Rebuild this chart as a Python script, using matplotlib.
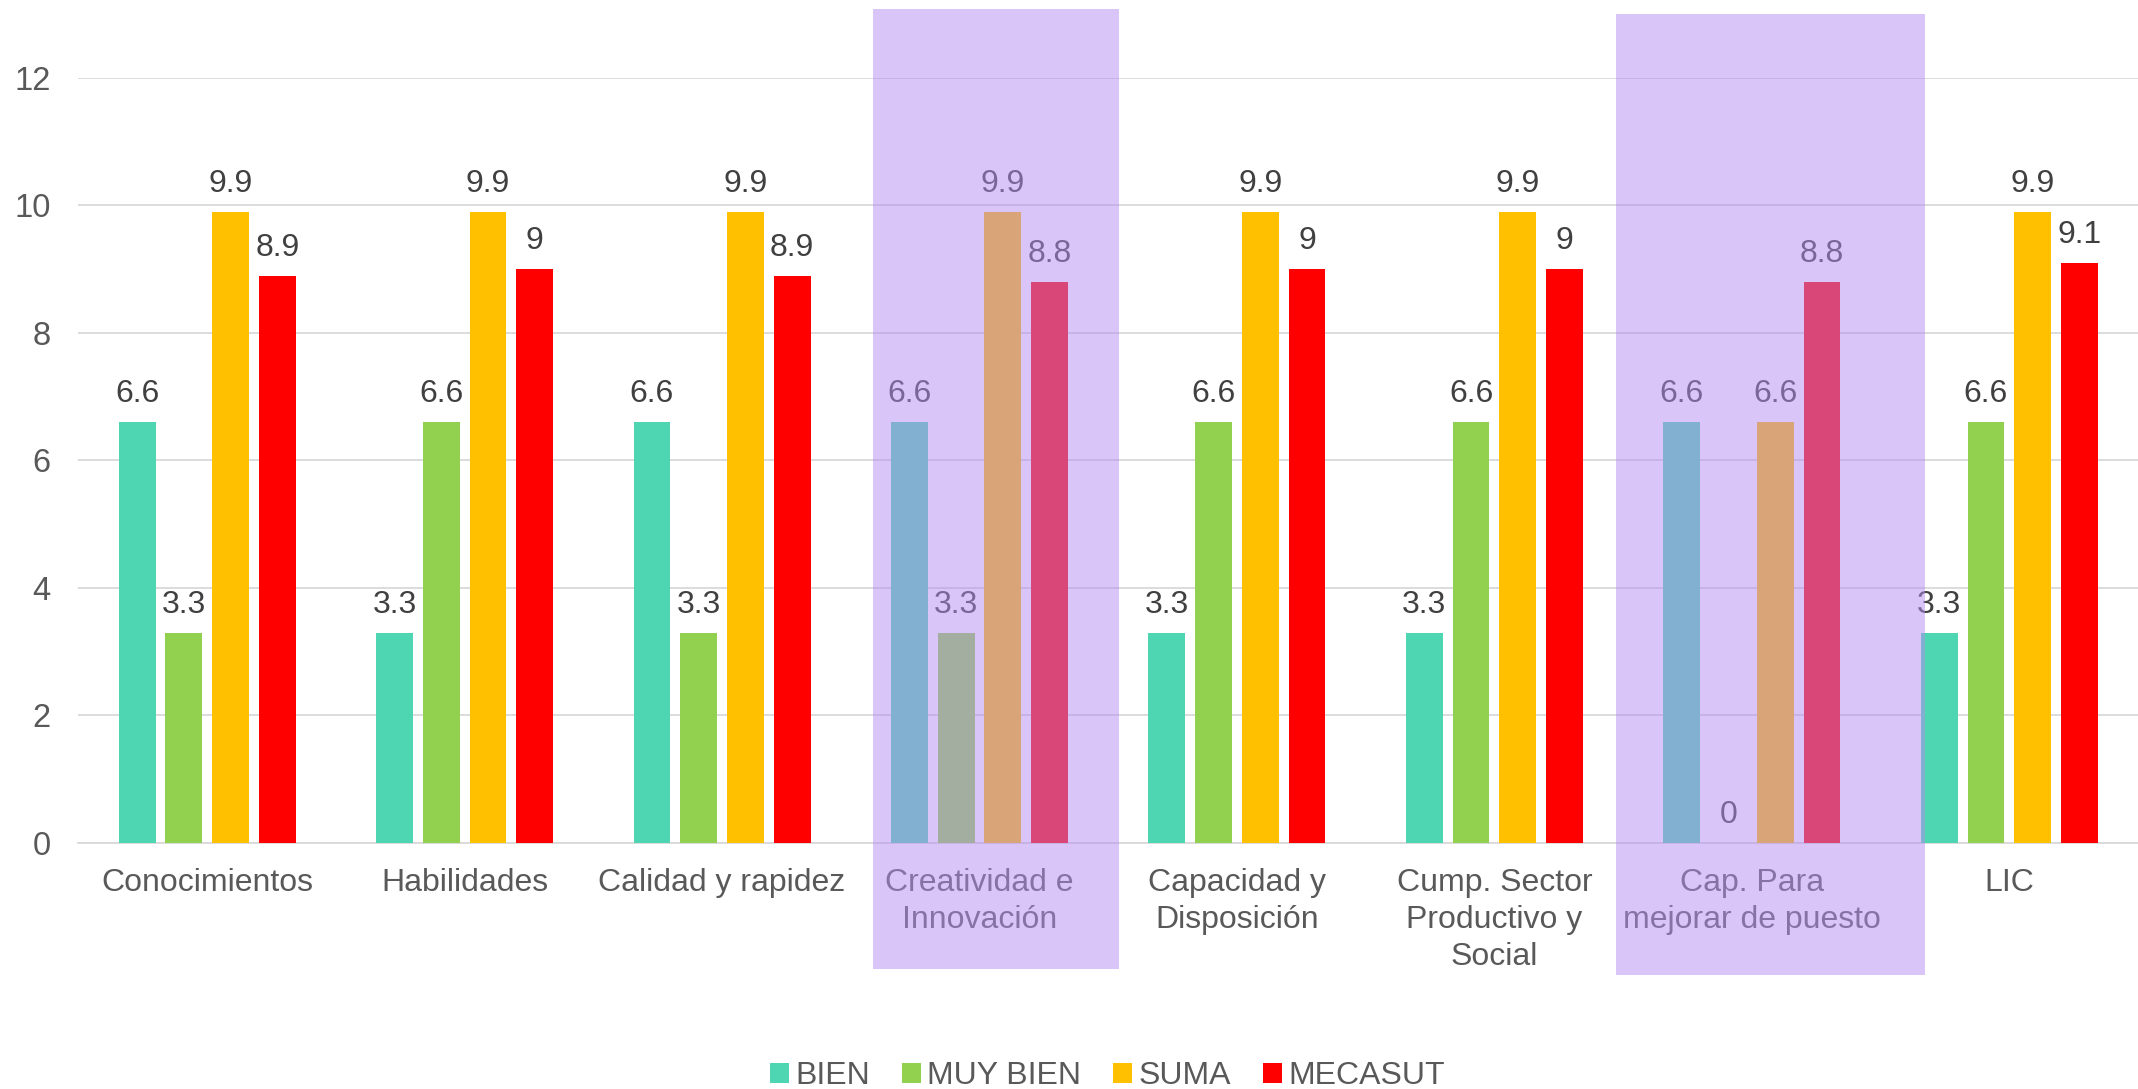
import matplotlib
matplotlib.use("Agg")
import matplotlib.pyplot as plt
from matplotlib.patches import Rectangle
import numpy as np

plt.rcParams['font.family'] = ['Liberation Sans', 'DejaVu Sans']

categories = ["Conocimientos", "Habilidades", "Calidad y rapidez", "Creatividad e\nInnovación",
              "Capacidad y\nDisposición", "Cump. Sector\nProductivo y\nSocial",
              "Cap. Para\nmejorar de puesto", "LIC"]
series_names = ["BIEN", "MUY BIEN", "SUMA", "MECASUT"]
bien = [6.6, 3.3, 6.6, 6.6, 3.3, 3.3, 6.6, 3.3]
muy_bien = [3.3, 6.6, 3.3, 3.3, 6.6, 6.6, 0, 6.6]
suma = [9.9, 9.9, 9.9, 9.9, 9.9, 9.9, 6.6, 9.9]
mecasut = [8.9, 9, 8.9, 8.8, 9, 9, 8.8, 9.1]
yticks = [0, 2, 4, 6, 8, 10, 12]

colors = ["#4DD6B1", "#92D050", "#FFC000", "#FF0000"]

fig = plt.figure(figsize=(21.38, 10.89), dpi=100)
ax = fig.add_axes([0.0367, 0.226, 0.9633, 0.7024])

x = np.arange(len(categories))
step = 0.1815
width = 0.143
all_series = [bien, muy_bien, suma, mecasut]
for i, (vals, name, c) in enumerate(zip(all_series, series_names, colors)):
    pos = x + (i - 1.5) * step
    ax.bar(pos, vals, width, color=c, label=name, zorder=3)
    for xp, v in zip(pos, vals):
        ax.text(xp, v + 0.2, f"{v:g}", ha="center", va="bottom", fontsize=23,
                color="#404040", zorder=4, clip_on=False)

ax.set_xlim(-0.5, len(categories) - 0.5)
ax.set_ylim(0, 12)
ax.set_yticks(yticks)
ax.set_yticklabels([str(t) for t in yticks])
ax.set_xticks(x)
ax.set_xticklabels(categories, fontsize=23, color="#595959", linespacing=1.3)
ax.tick_params(axis="y", labelsize=23.5, labelcolor="#595959", length=0, pad=20)
ax.tick_params(axis="x", length=0, pad=18)
ax.grid(axis="y", color="#D9D9D9", linewidth=1.3, zorder=0)
ax.set_axisbelow(True)
for s in ["top", "right", "left"]:
    ax.spines[s].set_visible(False)
ax.spines["bottom"].set_color("#D9D9D9")
ax.spines["bottom"].set_linewidth(1.3)

leg = fig.legend(loc="center", bbox_to_anchor=(0.518, 0.012), ncol=4, frameon=False,
                 fontsize=23, handlelength=0.6, handleheight=0.6, handletextpad=0.2,
                 columnspacing=1.0, labelcolor="#595959")

# purple highlight overlays (figure coordinates)
W, H = 2138, 1089
for (x0, x1, y0, y1) in [(873, 1119, 9, 969), (1616, 1925, 14, 975)]:
    fig.add_artist(Rectangle((x0 / W, 1 - y1 / H), (x1 - x0) / W, (y1 - y0) / H,
                             transform=fig.transFigure, facecolor="#B58CF0",
                             alpha=0.5, edgecolor="none", zorder=10))

fig.savefig("out.png", dpi=100, facecolor="white")
